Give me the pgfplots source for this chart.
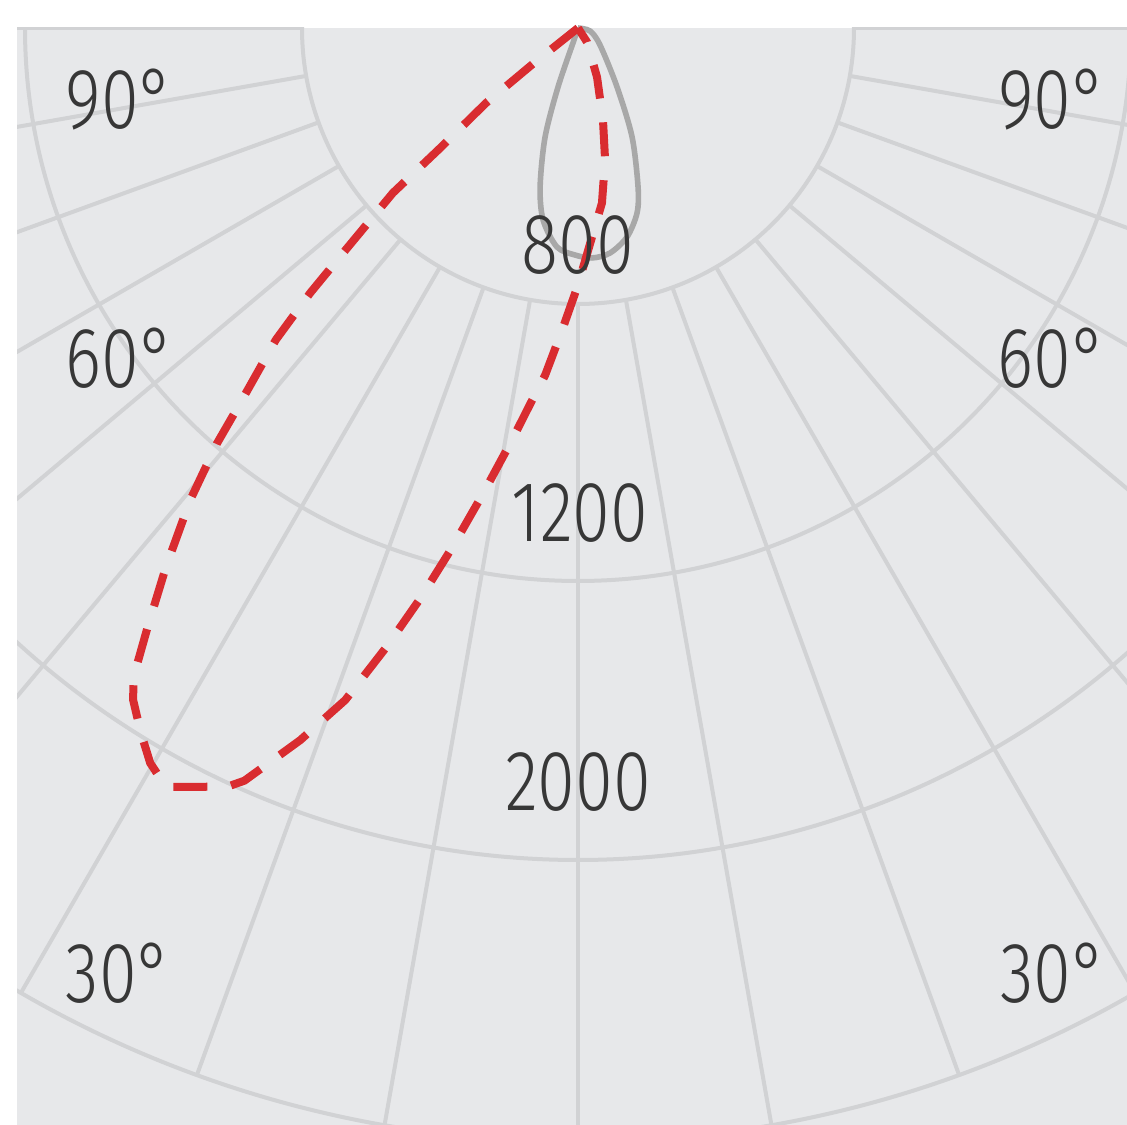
\documentclass[border=0pt]{standalone}
\usepackage{pgfplots}
\pgfplotsset{compat=1.18}
\usepackage{graphicx}
\usepackage{fontspec}
\IfFontExistsTF{Fira Sans Light}{\setmainfont{Fira Sans Light}}{\setmainfont{Fira Sans}}

\definecolor{bgc}{RGB}{231,232,234}
\definecolor{gridc}{RGB}{209,210,212}
\definecolor{textc}{RGB}{55,55,55}
\definecolor{redc}{RGB}{217,44,48}
\definecolor{grayc}{RGB}{168,168,168}

\tikzset{lab/.style={inner sep=0pt, text=textc, font=\fontsize{21.4}{24}\selectfont}}
\newcommand{\nar}[1]{\scalebox{0.8}[1]{#1}}

\begin{document}
\begin{tikzpicture}
\begin{axis}[
    scale only axis,
    width=281.75pt, height=281.25pt,
    xmin=-578, xmax=549, ymin=-1097, ymax=28,
    axis lines=none,
    clip=false,
]
% paper and plot background
\fill[white] (axis cs:-578,-1097) rectangle (axis cs:549,28);
\fill[bgc] (axis cs:-561,-1097) rectangle (axis cs:549,0);

% polar grid (circles and 10 degree spokes)
\begin{scope}
\clip (axis cs:-561,-1097) rectangle (axis cs:549,0);
\pgfplotsinvokeforeach{276,553,832,1114}{
    \draw[gridc, line width=1pt] (axis cs:0,0) circle[radius=#1];
}
\pgfplotsinvokeforeach{-180,-170,...,0}{
    \draw[gridc, line width=1pt] (axis cs:{276*cos(#1)},{276*sin(#1)}) -- (axis cs:{1114*cos(#1)},{1114*sin(#1)});
}
\end{scope}

% C0-C180 plane (grey), angle / radius
\addplot[grayc, line width=1.4pt, smooth, data cs=polar, mark=none] coordinates {
    (-90,0) (-14,12.4) (-37.7,27.8) (-56.5,70.7) (-63.6,121.6) (-69.3,169.9)
    (-72.3,194.2) (-76.8,214.7) (-81.9,227.3) (-86.5,230.4) (-90.8,227.0)
    (-95.5,220.0) (-100.3,195.2) (-103.4,163.5) (-106.8,113.9) (-108.7,62.3)
    (-108.4,12.6) (-90,0)
};

% C90-C270 plane (red dashed)
\addplot[redc, line width=2pt, dash pattern=on 8.5pt off 6pt, data cs=polar, mark=none] coordinates {
    (-90,0) (-141.5,56.2) (-140.8,118.7) (-138.9,185.7) (-138.3,247.9)
    (-136.4,317.6) (-135.3,376.9) (-134.1,434.2) (-132.0,504.8) (-131.0,550.0)
    (-129.4,611.0) (-127.4,678.4) (-125.7,737.4) (-124.4,786.9) (-123.5,806.0)
    (-121.8,829.5) (-120.2,850.5) (-118.5,863.6) (-114.8,835.8) (-113.9,823.3)
    (-111.3,764.3) (-109.1,711.2) (-107.2,648.1) (-105.4,590.3) (-103.6,534.1)
    (-101.5,474.6) (-99.1,417.3) (-97.3,380.0) (-95.4,348.6) (-93.0,302.4)
    (-90.0,257.0) (-82.2,176.6) (-78.4,134.7) (-74.8,95.3) (-68.8,52.6)
    (-57.3,16.6) (-90,0)
};

% intensity labels
\node[lab] at (axis cs:0,-217) {\nar{800}};
\node[lab] at (axis cs:2,-485) {\nar{1200}};
\node[lab] at (axis cs:0,-754) {\nar{2000}};

% angle labels
\node[lab, anchor=west] at (axis cs:-513,-72) {\nar{90°}};
\node[lab, anchor=west] at (axis cs:-513,-330) {\nar{60°}};
\node[lab, anchor=west] at (axis cs:-513,-945) {\nar{30°}};
\node[lab, anchor=east] at (axis cs:530,-72) {\nar{90°}};
\node[lab, anchor=east] at (axis cs:530,-330) {\nar{60°}};
\node[lab, anchor=east] at (axis cs:530,-945) {\nar{30°}};
\end{axis}
\end{tikzpicture}
\end{document}
